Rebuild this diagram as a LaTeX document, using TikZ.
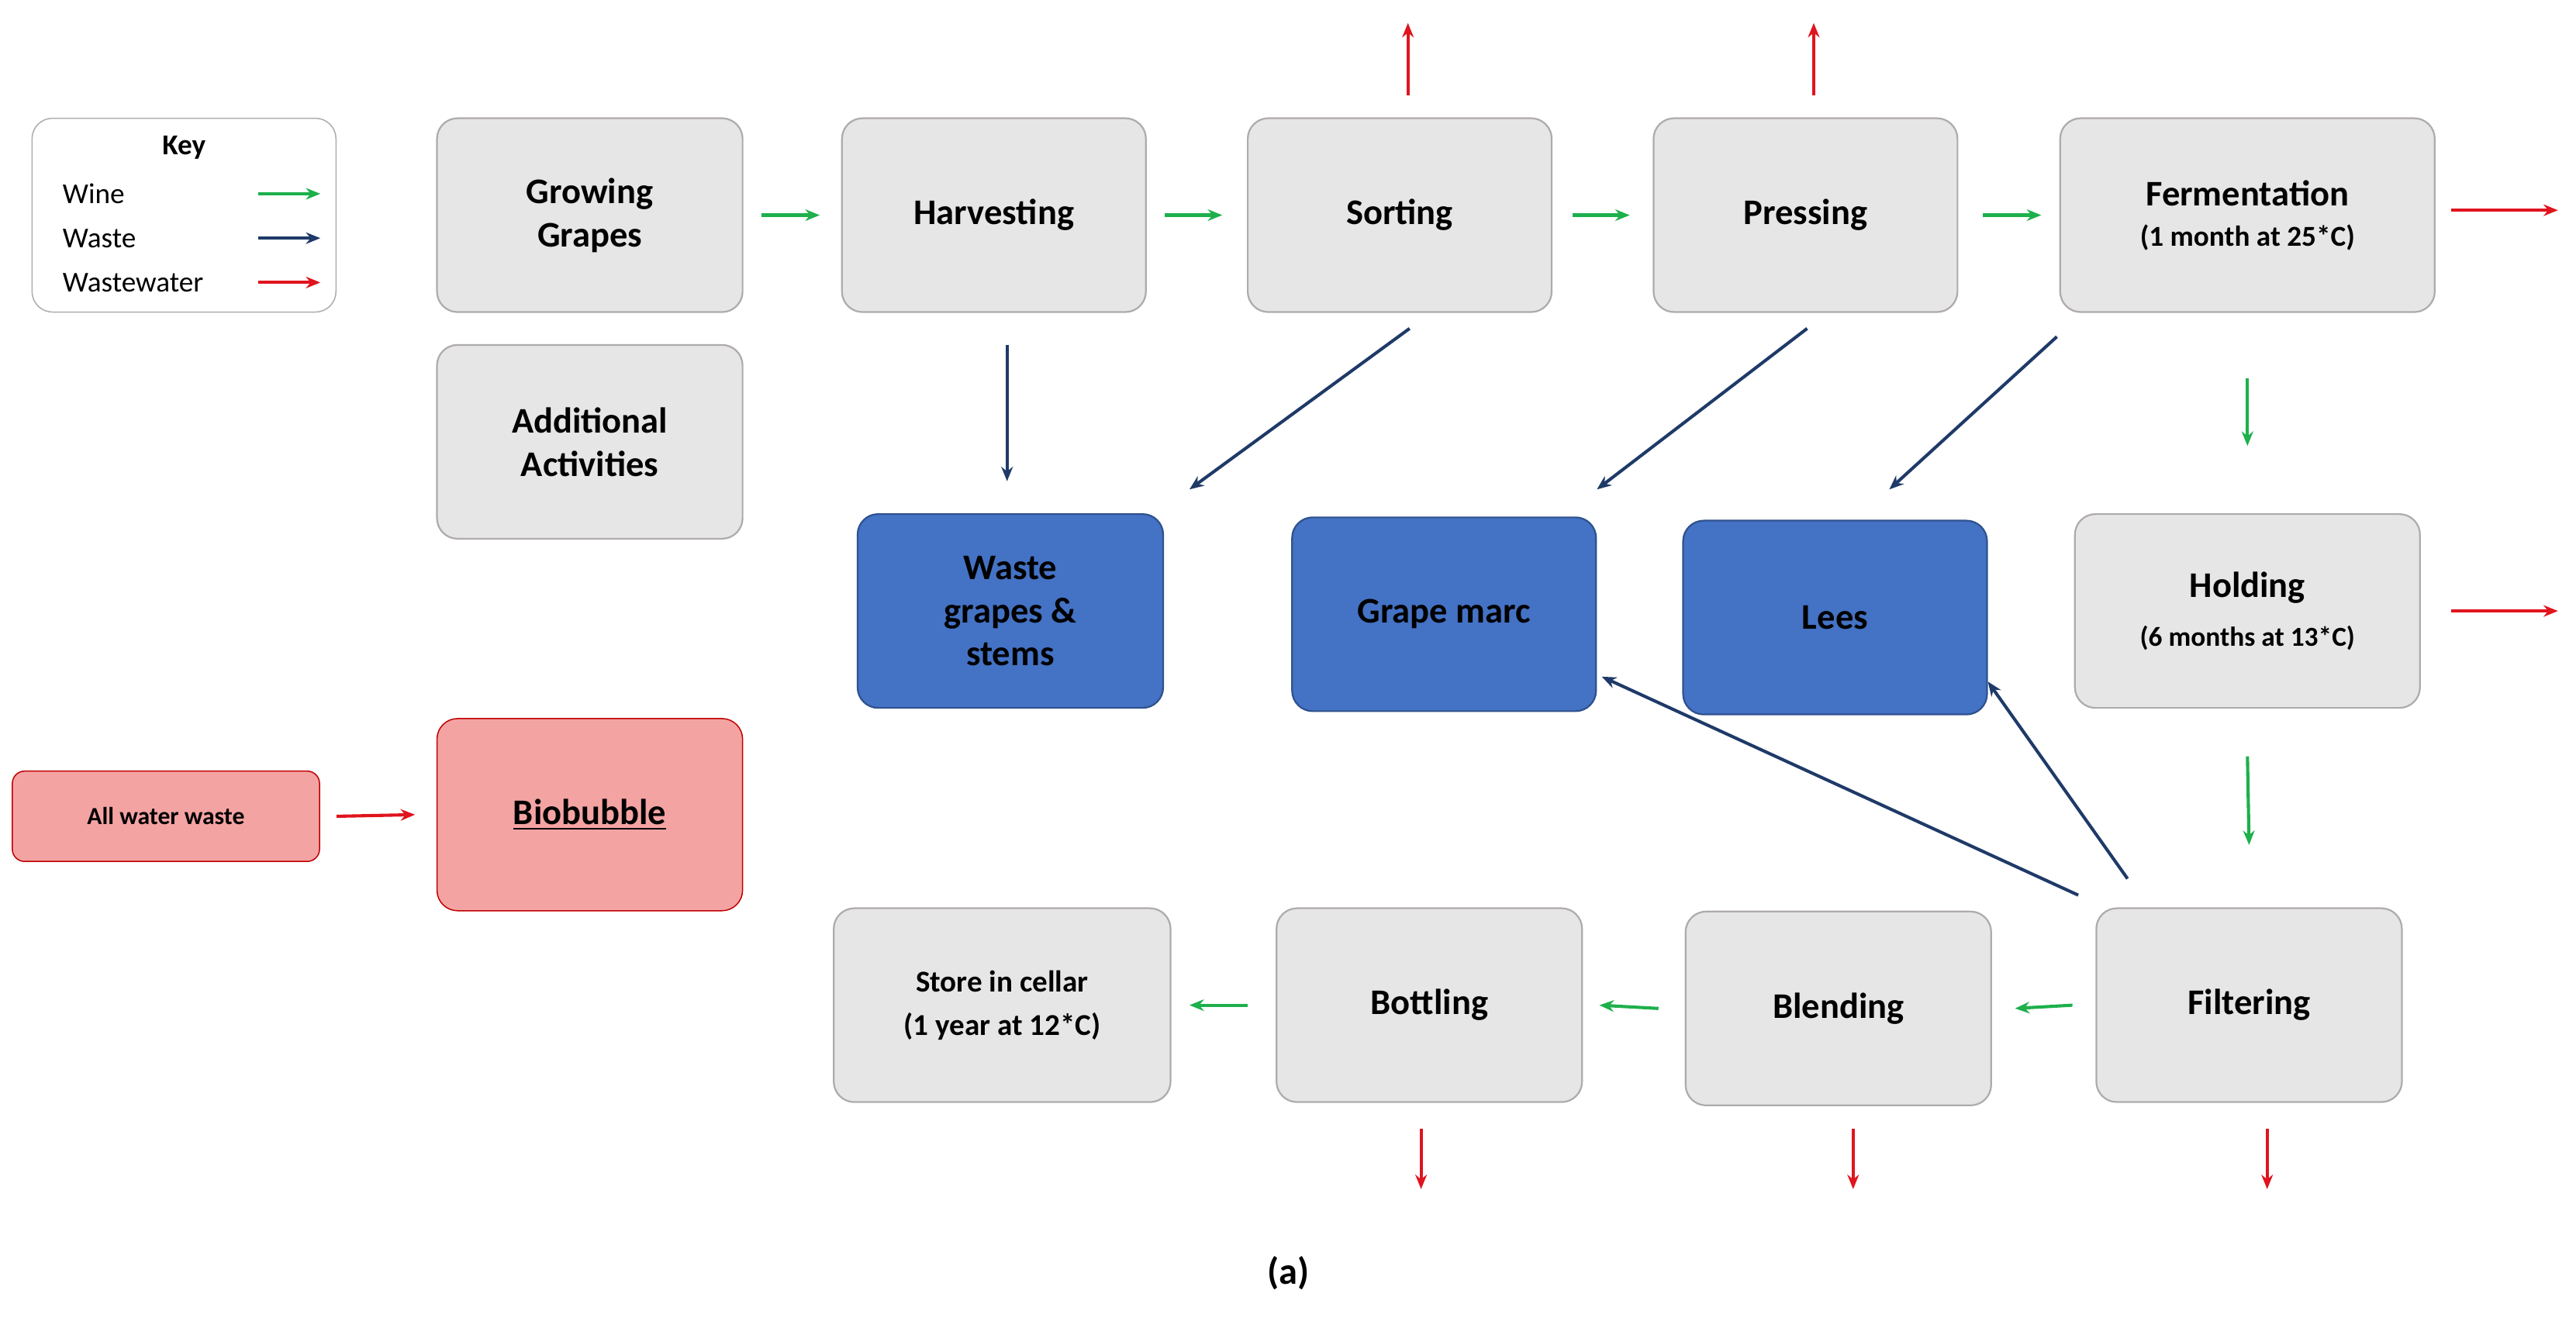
\documentclass[tikz,border=0pt]{standalone}
\usepackage{fontspec}
\setmainfont{Carlito}
\usetikzlibrary{arrows.meta}
\definecolor{boxg}{HTML}{E7E6E6}
\definecolor{boxb}{HTML}{AFABAB}
\definecolor{wblue}{HTML}{4472C4}
\definecolor{wblueb}{HTML}{2F528F}
\definecolor{pinkf}{HTML}{F4A3A3}
\definecolor{pinkb}{HTML}{C00000}
\definecolor{cgreen}{HTML}{1DB04B}
\definecolor{cnavy}{HTML}{1F3A68}
\definecolor{cred}{HTML}{E0141E}
\begin{document}
\begin{tikzpicture}[x=0.02cm,y=-0.02cm,
 box/.style={draw=boxb,fill=boxg,rounded corners=0.25cm,line width=0.6pt,align=center,font=\bfseries\fontsize{12.5}{15}\selectfont,inner sep=0pt},
 bbox/.style={draw=wblueb,fill=wblue,rounded corners=0.25cm,line width=0.6pt,align=center,font=\bfseries\fontsize{12.5}{15}\selectfont,inner sep=0pt},
 sm/.style={font=\bfseries\fontsize{8.5}{10}\selectfont},
 ar/.style={-{Stealth[length=5pt,width=4pt]},line width=1.1pt},
 gw/.style={ar,draw=cgreen},nw/.style={ar,draw=cnavy},rw/.style={ar,draw=cred}]
\useasboundingbox (0,0) rectangle (1568,804);
\def\bx#1#2#3#4#5#6{\node[#6,minimum width=#3*0.02cm,minimum height=#4*0.02cm] (#1) at (#2) {#5};}
% key
\node[draw=boxb,fill=white,rounded corners=0.25cm,minimum width=185*0.02cm,minimum height=118*0.02cm] (key) at (112,131) {};
\node[font=\bfseries\fontsize{10}{12}\selectfont] (kt) at (112,90) {Key};
\node[anchor=west,font=\fontsize{10}{12}\selectfont] (k1) at (32,118) {Wine};
\node[anchor=west,font=\fontsize{10}{12}\selectfont] (k2) at (32,145) {Waste};
\node[anchor=west,font=\fontsize{10}{12}\selectfont] (k3) at (32,172) {Wastewater};
\coordinate (k1a) at (157,118);\coordinate (k1b) at (195,118);
\coordinate (k2a) at (157,145);\coordinate (k2b) at (195,145);
\coordinate (k3a) at (157,172);\coordinate (k3b) at (195,172);
\draw[gw] (k1a)--(k1b);\draw[nw] (k2a)--(k2b);\draw[rw] (k3a)--(k3b);
% boxes
\bx{grow}{359,131}{186}{118}{Growing\\Grapes}{box}
\bx{harv}{605,131}{185}{118}{Harvesting}{box}
\bx{sort}{852,131}{185}{118}{Sorting}{box}
\bx{press}{1099,131}{185}{118}{Pressing}{box}
\bx{ferm}{1368,131}{228}{118}{Fermentation\\[-1pt]{\fontsize{10}{12}\selectfont (1 month at 25*C)}}{box}
\bx{add}{359,269}{186}{118}{Additional\\Activities}{box}
\bx{wgs}{615,372}{186}{118}{Waste\\grapes \&\\stems}{bbox}
\bx{marc}{879,374}{185}{118}{Grape marc}{bbox}
\bx{lees}{1117,376}{185}{118}{Lees}{bbox}
\bx{hold}{1368,372}{210}{118}{Holding\\[2pt]{\fontsize{9.5}{11}\selectfont (6 months at 13*C)}}{box}
\node[draw=pinkb,fill=pinkf,rounded corners=0.15cm,minimum width=187*0.02cm,minimum height=55*0.02cm,sm] (aww) at (101,497) {All water waste};
\bx{bio}{359,496}{186}{117}{\underline{Biobubble}}{draw=pinkb,fill=pinkf,rounded corners=0.25cm,font=\bfseries\fontsize{12.5}{15}\selectfont}
\bx{store}{610,612}{205}{118}{\fontsize{10.5}{13}\selectfont Store in cellar\\\fontsize{10.5}{13}\selectfont (1 year at 12*C)}{box}
\bx{bott}{870,612}{186}{118}{Bottling}{box}
\bx{blend}{1119,614}{186}{118}{Blending}{box}
\bx{filt}{1369,612}{186}{118}{Filtering}{box}
\node[font=\bfseries\fontsize{13}{15}\selectfont] (lab) at (784,775) {(a)};
% green
\draw[gw] ([xshift=11*0.02cm]grow.east)--([xshift=-13*0.02cm]harv.west);
\draw[gw] ([xshift=11*0.02cm]harv.east)--([xshift=-15*0.02cm]sort.west);
\draw[gw] ([xshift=12*0.02cm]sort.east)--([xshift=-14*0.02cm]press.west);
\draw[gw] ([xshift=15*0.02cm]press.east)--([xshift=-11*0.02cm]ferm.west);
\draw[gw] ([yshift=-40*0.02cm]ferm.south)--([yshift=41*0.02cm]hold.north);
\draw[gw] ([yshift=-29*0.02cm]hold.south)--([yshift=38*0.02cm]filt.north);
\draw[gw] ([xshift=-14*0.02cm]filt.west)--([xshift=14*0.02cm]blend.east);
\draw[gw] ([xshift=-16*0.02cm]blend.west)--([xshift=10*0.02cm]bott.east);
\draw[gw] ([xshift=-17*0.02cm]bott.west)--([xshift=11*0.02cm]store.east);
% red
\draw[rw] (aww.east)++(10*0.02cm,0) coordinate (r0) -- ([xshift=-13*0.02cm]bio.west);
\coordinate (r1) at (1492,128);\coordinate (r2) at (1557,128);\draw[rw] (r1)--(r2);
\coordinate (r3) at (1492,372);\coordinate (r4) at (1557,372);\draw[rw] (r3)--(r4);
\coordinate (u1) at (857,58);\coordinate (u2) at (857,14);\draw[rw] (u1)--(u2);
\coordinate (u3) at (1104,58);\coordinate (u4) at (1104,14);\draw[rw] (u3)--(u4);
\coordinate (d1) at (865,687);\coordinate (d2) at (865,724);\draw[rw] (d1)--(d2);
\coordinate (d3) at (1128,687);\coordinate (d4) at (1128,724);\draw[rw] (d3)--(d4);
\coordinate (d5) at (1380,687);\coordinate (d6) at (1380,724);\draw[rw] (d5)--(d6);
% navy
\coordinate (n1) at (613,210);\coordinate (n2) at (613,293);\draw[nw] (n1)--(n2);
\coordinate (n3) at (858,200);\coordinate (n4) at (724,298);\draw[nw] (n3)--(n4);
\coordinate (n5) at (1100,200);\coordinate (n6) at (972,298);\draw[nw] (n5)--(n6);
\coordinate (n7) at (1252,205);\coordinate (n8) at (1150,298);\draw[nw] (n7)--(n8);
\coordinate (n9) at (1265,545);\coordinate (n10) at (975,412);\draw[nw] (n9)--(n10);
\coordinate (n11) at (1295,535);\coordinate (n12) at (1210,415);\draw[nw] (n11)--(n12);
\end{tikzpicture}
\end{document}
